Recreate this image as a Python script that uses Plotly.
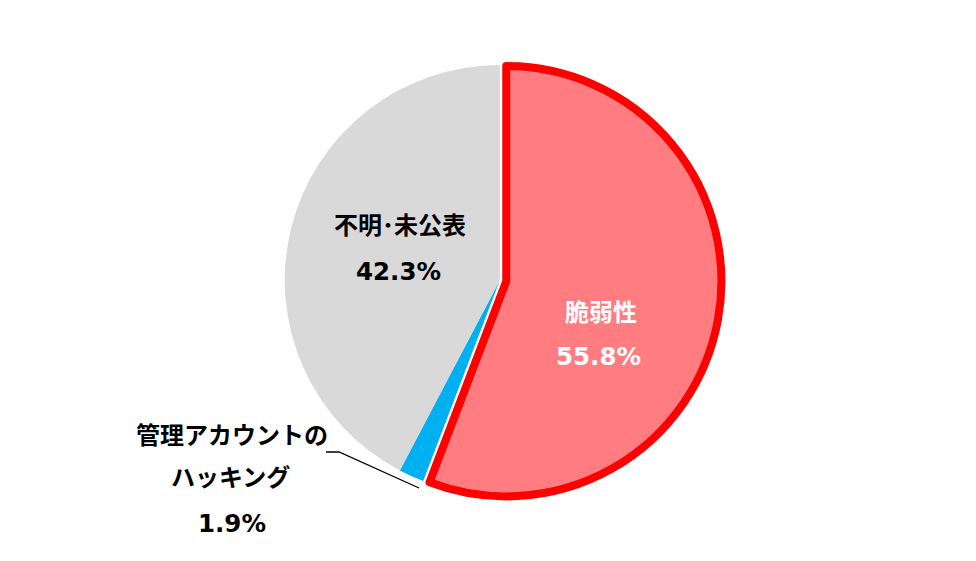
import plotly.graph_objects as go

# slices, clockwise from 12 o'clock
labels = ["脆弱性", "管理アカウントのハッキング", "不明･未公表"]
values = [55.8, 1.9, 42.3]
colors = ["#FF7C80", "#00B0F0", "#D9D9D9"]

W, H = 976, 561
JP = "Noto Sans CJK JP"
NUM = "DejaVu Sans"


def px(x, y):
    return x / W, 1 - y / H


fig = go.Figure()
fig.add_trace(
    go.Pie(
        labels=labels,
        values=values,
        sort=False,
        direction="clockwise",
        rotation=0,
        pull=[0.03, 0, 0],
        marker=dict(colors=colors, line=dict(color=["#FF0000", "#FFFFFF", "#FFFFFF"], width=[8, 0, 0])),
        textinfo="none",
        hoverinfo="label+percent",
        domain=dict(x=[0.204, 0.804], y=[0.12, 0.91]),
        showlegend=False,
    )
)

# text labels, one annotation per line
lines = [
    (labels[2], 392, 215, "#000000", JP, 24),
    (f"{values[2]}%", 390, 263, "#000000", NUM, 24.5),
    (labels[0], 593, 302, "#FFFFFF", JP, 24),
    (f"{values[0]}%", 590, 348, "#FFFFFF", NUM, 24.5),
    (labels[1][:8], 224, 425, "#000000", JP, 24),
    (labels[1][8:], 222, 467, "#000000", JP, 24),
    (f"{values[1]}%", 224, 515, "#000000", NUM, 24.5),
]
for text, x, y, col, fam, size in lines:
    ax, ay = px(x, y)
    fig.add_annotation(
        x=ax, y=ay, xref="paper", yref="paper", text=f"<b>{text}</b>",
        showarrow=False, xanchor="center", yanchor="middle",
        font=dict(family=fam, size=size, color=col),
    )

# leader line for the small slice
p0, p1, p2 = px(318, 444), px(331, 444), px(411, 480)
fig.add_shape(
    type="path", xref="paper", yref="paper",
    path=f"M {p0[0]},{p0[1]} L {p1[0]},{p1[1]} L {p2[0]},{p2[1]}",
    line=dict(color="#000000", width=1.3),
)

fig.update_layout(
    width=W,
    height=H,
    margin=dict(l=0, r=0, t=0, b=0),
    paper_bgcolor="#FFFFFF",
    plot_bgcolor="#FFFFFF",
    font=dict(family=JP),
)

fig.write_html("out.html")
